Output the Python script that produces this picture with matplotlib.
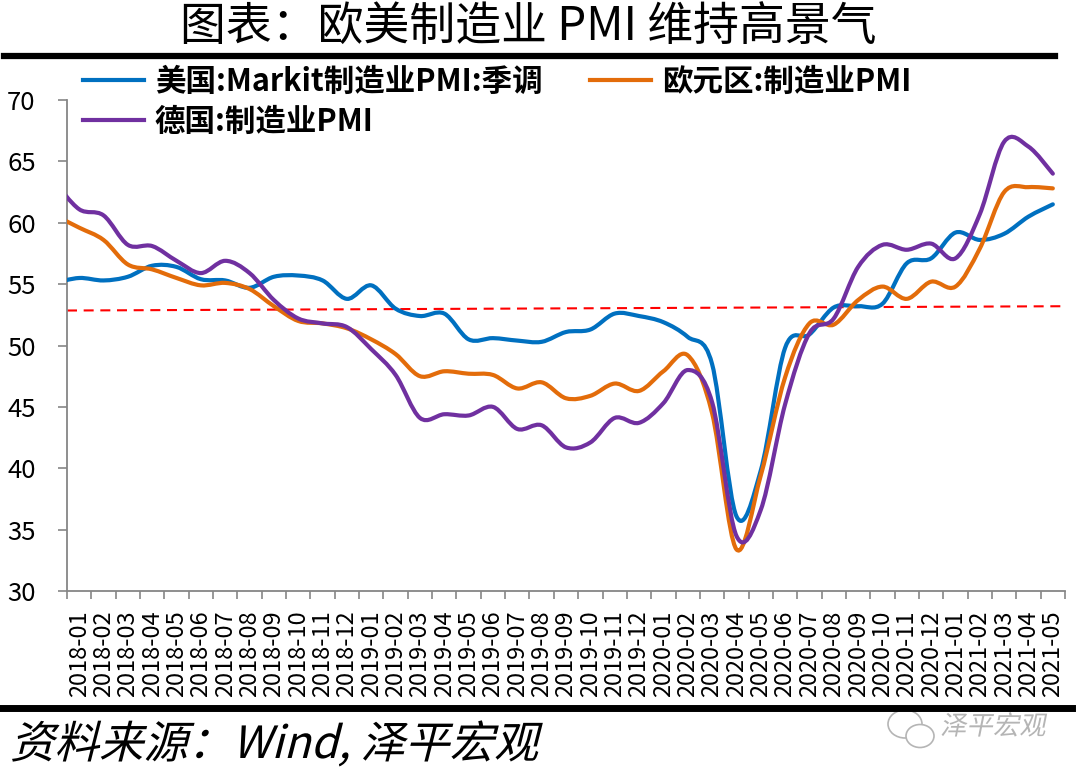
import numpy as np
import matplotlib
matplotlib.use("Agg")
import matplotlib.pyplot as plt
from matplotlib.path import Path
from matplotlib.patches import PathPatch, Ellipse
from matplotlib.lines import Line2D
from matplotlib import patheffects
from matplotlib.transforms import Affine2D

plt.rcParams['font.family'] = ['Noto Sans CJK SC', 'DejaVu Sans']

# monthly data, first value (2017-12) only shows as the line entering from the left edge
months = ['2017-12'] + ['%d-%02d' % (y, m) for y in (2018, 2019, 2020, 2021)
                        for m in range(1, 13)][:41]
us_pmi = [55.1,
          55.5, 55.3, 55.6, 56.5, 56.4, 55.4, 55.3, 54.7, 55.6, 55.7, 55.3, 53.8,
          54.9, 53.0, 52.4, 52.6, 50.5, 50.6, 50.4, 50.3, 51.1, 51.3, 52.6, 52.4,
          51.9, 50.7, 48.5, 36.1, 39.8, 49.8, 50.9, 53.1, 53.2, 53.4, 56.7, 57.1,
          59.2, 58.6, 59.1, 60.5, 61.5]
ez_pmi = [60.6,
          59.6, 58.6, 56.6, 56.2, 55.5, 54.9, 55.1, 54.6, 53.2, 52.0, 51.8, 51.4,
          50.5, 49.3, 47.5, 47.9, 47.7, 47.6, 46.5, 47.0, 45.7, 45.9, 46.9, 46.3,
          47.9, 49.2, 44.5, 33.4, 39.4, 47.4, 51.8, 51.7, 53.7, 54.8, 53.8, 55.2,
          54.8, 57.9, 62.5, 62.9, 62.8]
de_pmi = [63.3,
          61.1, 60.6, 58.2, 58.1, 56.9, 55.9, 56.9, 55.9, 53.7, 52.2, 51.8, 51.5,
          49.7, 47.6, 44.1, 44.4, 44.3, 45.0, 43.2, 43.5, 41.7, 42.1, 44.1, 43.7,
          45.3, 48.0, 45.4, 34.5, 36.6, 45.2, 51.0, 52.2, 56.4, 58.2, 57.8, 58.3,
          57.1, 60.7, 66.6, 66.2, 64.0]
trend = [52.85, 53.2]   # red dashed reference line, left and right end

labels = ['美国:Markit制造业PMI:季调', '欧元区:制造业PMI', '德国:制造业PMI']
colors = ['#0070C0', '#E36C0A', '#7030A0']


class Slant(patheffects.AbstractPathEffect):
    """fake italic for fonts without an italic face"""
    def __init__(self, shear=0.25):
        super().__init__()
        self.shear = shear

    def draw_path(self, renderer, gc, tpath, affine, rgbFace=None):
        renderer.draw_path(gc, tpath, Affine2D().skew(self.shear, 0) + affine, rgbFace)


def smooth_path(x, y):
    # excel-like smoothed line: catmull-rom segments as cubic beziers
    pts = np.column_stack([x, y])
    ext = np.vstack([pts[0], pts, pts[-1]])
    verts = [pts[0]]
    codes = [Path.MOVETO]
    for i in range(len(pts) - 1):
        p0, p1, p2, p3 = ext[i], ext[i + 1], ext[i + 2], ext[i + 3]
        verts += [p1 + (p2 - p0) / 6, p2 - (p3 - p1) / 6, p2]
        codes += [Path.CURVE4] * 3
    return Path(verts, codes)


fig = plt.figure(figsize=(10.8, 7.76), dpi=100)
ax = fig.add_axes([67 / 1080, 1 - 591 / 776, 998 / 1080, 491 / 776])

x = np.arange(len(months)) - 1
for vals, c in zip([us_pmi, ez_pmi, de_pmi], colors):
    ax.add_patch(PathPatch(smooth_path(x, vals), facecolor='none', edgecolor=c,
                           lw=3, capstyle='round', joinstyle='round', zorder=3))

ax.plot([-0.5, len(months) - 1.5], trend, color='#FF0000', lw=1.5,
        dashes=(4.8, 3.2), zorder=2)

ax.set_xlim(-0.5, len(months) - 1.5)
ax.set_ylim(30, 70)
ax.set_yticks(range(30, 71, 5))
ax.set_xticks(np.arange(-0.5, len(months) - 1, 1))
ax.set_xticks(np.arange(len(months) - 1), minor=True)
ax.set_xticklabels(months[1:], minor=True)

for s in ['top', 'right']:
    ax.spines[s].set_visible(False)
for s in ['left', 'bottom']:
    ax.spines[s].set_color('#868686')
    ax.spines[s].set_linewidth(1.3)

ax.tick_params(axis='y', direction='out', length=6.5, width=1.2, color='#868686',
               pad=16, labelsize=18.5)
ax.tick_params(axis='x', which='major', direction='out', length=6, width=1.2,
               color='#868686', labelbottom=False)
ax.tick_params(axis='x', which='minor', length=0, pad=14, labelsize=17,
               labelrotation=90)

handles = [Line2D([], [], color=colors[0], lw=3),
           Line2D([], [], color=colors[2], lw=3),
           Line2D([], [], color=colors[1], lw=3)]
ax.legend(handles, [labels[0], labels[2], labels[1]], ncol=2, loc='upper left',
          bbox_to_anchor=(83 / 1080, 1 - 66 / 776), bbox_transform=fig.transFigure,
          frameon=False, prop={'weight': 'bold', 'size': 22}, handlelength=2.0,
          handletextpad=0.35, columnspacing=1.55, labelspacing=0.26,
          borderpad=0, borderaxespad=0)

fig.text(528 / 1080, 1 - 28 / 776, '图表：欧美制造业 PMI 维持高景气', fontsize=33,
         fontweight='light', ha='center', va='center')
fig.add_artist(Line2D([4 / 1080, 1055 / 1080], [1 - 56 / 776] * 2, color='black', lw=4.5))
fig.add_artist(Line2D([0, 1072 / 1080], [1 - 708 / 776] * 2, color='black', lw=5))

fig.text(10 / 1080, 1 - 745 / 776, '资料来源：Wind, 泽平宏观', fontsize=32,
         fontweight='light', ha='left', va='center', path_effects=[Slant(0.25)])

# watermark: chat-bubble icon and account name
for cx, cy, w, h in [(905, 724, 34, 28), (920, 736, 28, 23)]:
    fig.add_artist(Ellipse((cx / 1080, 1 - cy / 776), w / 1080, h / 776,
                           transform=fig.transFigure, facecolor='white',
                           edgecolor='#b5b5b5', lw=1.2))
fig.text(940 / 1080, 1 - 727 / 776, '泽平宏观', fontsize=19, color='#b5b5b5',
         ha='left', va='center', path_effects=[Slant(0.2)])

fig.savefig('out.png', dpi=100)
